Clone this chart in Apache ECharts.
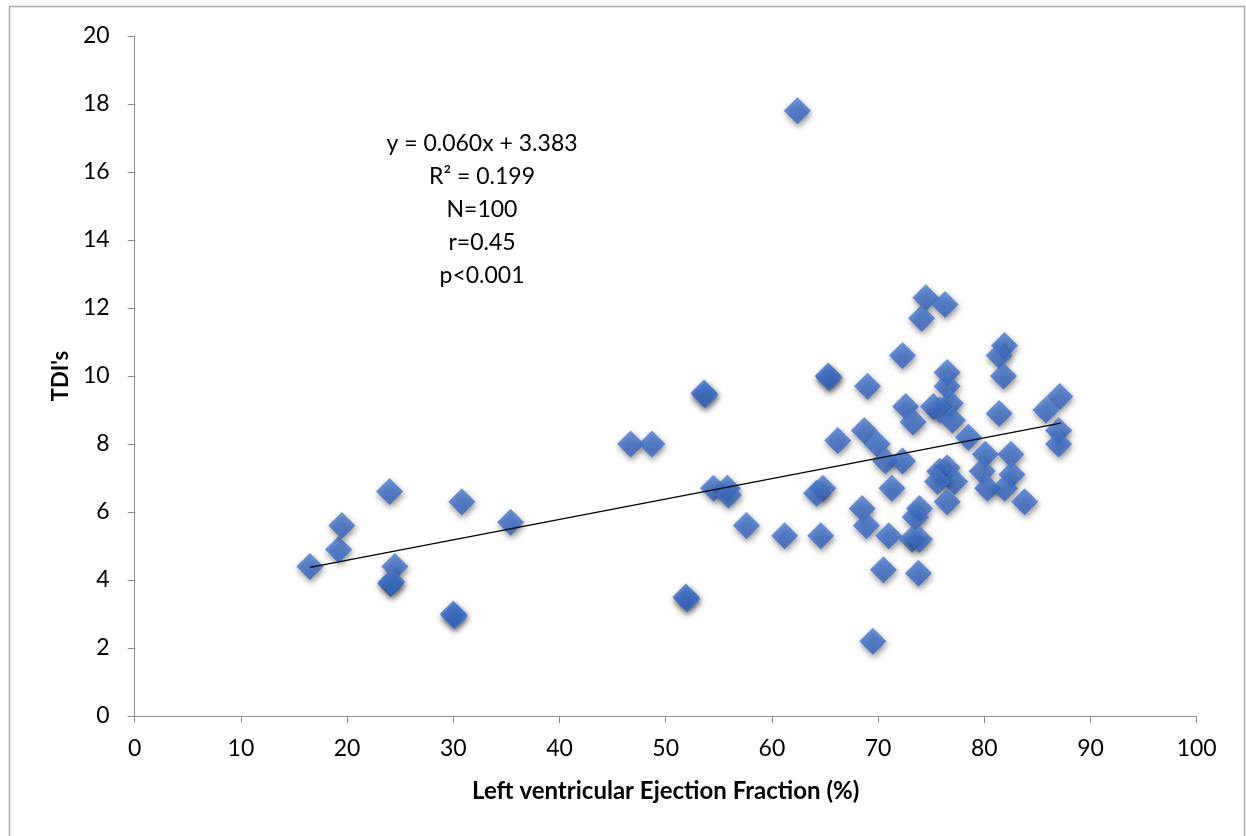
<!DOCTYPE html>
<html>
<head>
<meta charset="utf-8">
<script src="https://cdn.jsdelivr.net/npm/echarts@6/dist/echarts.min.js"></script>
<style>
html,body{margin:0;padding:0;background:#fff;}
#chart{width:1246px;height:836px;}
</style>
</head>
<body>
<div id="chart"></div>
<script>
// Left ventricular ejection fraction (%) values
const lvef = [16.5, 19.2, 19.5, 24.0, 24.5, 24.1, 24.2, 30.0, 30.1, 30.8, 35.4, 46.7, 48.7, 53.6, 53.7,
  54.5, 55.8, 55.9, 57.6, 51.9, 52.0, 62.4, 61.2,
  74.5, 76.3, 74.1, 72.3, 81.9, 81.4, 81.8, 65.3, 65.4, 76.5, 69.0, 76.5, 87.1, 85.8, 81.4,
  72.6, 73.3, 75.2, 76.8, 75.8, 77.0, 78.5, 87.0, 87.0, 66.2, 68.7, 69.9, 70.7, 72.3,
  80.1, 82.5, 76.5, 75.8, 79.8, 82.6, 77.2, 75.6, 64.8, 64.2, 71.3, 68.5, 68.9, 73.9, 73.5,
  76.5, 80.3, 81.9, 83.8, 64.6, 71.0, 73.2, 73.9, 70.5, 73.8, 69.5];
// TDI values
const tdi = [4.4, 4.9, 5.6, 6.6, 4.4, 3.9, 3.95, 3.0, 2.95, 6.3, 5.7, 8.0, 8.0, 9.5, 9.45,
  6.7, 6.7, 6.5, 5.6, 3.5, 3.45, 17.8, 5.3,
  12.3, 12.1, 11.7, 10.6, 10.9, 10.6, 10.0, 10.0, 9.95, 10.1, 9.7, 9.7, 9.4, 9.0, 8.9,
  9.1, 8.65, 9.1, 9.2, 9.0, 8.7, 8.2, 8.4, 8.0, 8.1, 8.4, 8.0, 7.5, 7.5,
  7.7, 7.7, 7.3, 7.2, 7.2, 7.1, 6.9, 6.9, 6.7, 6.55, 6.7, 6.1, 5.6, 6.1, 5.85,
  6.3, 6.7, 6.7, 6.3, 5.3, 5.3, 5.2, 5.2, 4.3, 4.2, 2.2];
// Trendline from the printed equation
const slope = 0.060, intercept = 3.383;
const trendX = [16.5, 87.2];
const annotationLines = ['y = 0.060x + 3.383', 'R\u00B2 = 0.199', 'N=100', 'r=0.45', 'p<0.001'];
const xTitle = 'Left ventricular Ejection Fraction (%)';
const yTitle = "TDI's";

const points = lvef.map((x, i) => [x, tdi[i]]);
const trend = trendX.map(x => [x, slope * x + intercept]);

const chart = echarts.init(document.getElementById('chart'), null, {renderer: 'canvas'});
const font = 'Lato, "Open Sans", sans-serif';
chart.setOption({
  animation: false,
  backgroundColor: '#ffffff',
  grid: {left: 134.7, right: 49.3, top: 36, bottom: 120},
  xAxis: {
    type: 'value', min: 0, max: 100, interval: 10,
    name: xTitle, nameLocation: 'middle', nameGap: 63,
    nameTextStyle: {fontFamily: font, fontWeight: 'bold', fontSize: 24, color: '#000'},
    axisLine: {show: true, lineStyle: {color: '#8c8c8c', width: 1}},
    axisTick: {show: true, inside: false, length: 7, lineStyle: {color: '#8c8c8c'}},
    axisLabel: {margin: 21, fontFamily: font, fontSize: 23, color: '#000'},
    splitLine: {show: false}
  },
  yAxis: {
    type: 'value', min: 0, max: 20, interval: 2,
    name: yTitle, nameLocation: 'middle', nameGap: 63, nameRotate: 90,
    nameTextStyle: {fontFamily: font, fontWeight: 'bold', fontSize: 22, color: '#000'},
    axisLine: {show: true, lineStyle: {color: '#8c8c8c', width: 1}},
    axisTick: {show: true, inside: false, length: 7, lineStyle: {color: '#8c8c8c'}},
    axisLabel: {margin: 25, fontFamily: font, fontSize: 23, color: '#000'},
    splitLine: {show: false}
  },
  series: [
    {
      type: 'scatter', data: points, symbol: 'diamond', symbolSize: 27,
      itemStyle: {
        color: new echarts.graphic.LinearGradient(0, 0, 0, 1, [
          {offset: 0, color: '#4a7dd2'}, {offset: 1, color: '#3565c2'}
        ]),
        shadowBlur: 6, shadowColor: 'rgba(0,0,0,0.55)', shadowOffsetX: 1, shadowOffsetY: 3
      },
      z: 2
    },
    {
      type: 'line', data: trend, symbol: 'none',
      lineStyle: {color: '#000', width: 1.2}, z: 3, silent: true
    }
  ],
  graphic: [
    {
      type: 'rect', shape: {x: 9.5, y: 6.5, width: 1235, height: 845},
      style: {fill: 'none', stroke: '#ababab', lineWidth: 1.5}, silent: true
    },
    {
      type: 'text', x: 482, y: 127,
      style: {
        text: annotationLines.join('\n'),
        textAlign: 'center', fontFamily: font, fontSize: 23, lineHeight: 33, fill: '#000'
      }
    }
  ]
});
</script>
</body>
</html>
